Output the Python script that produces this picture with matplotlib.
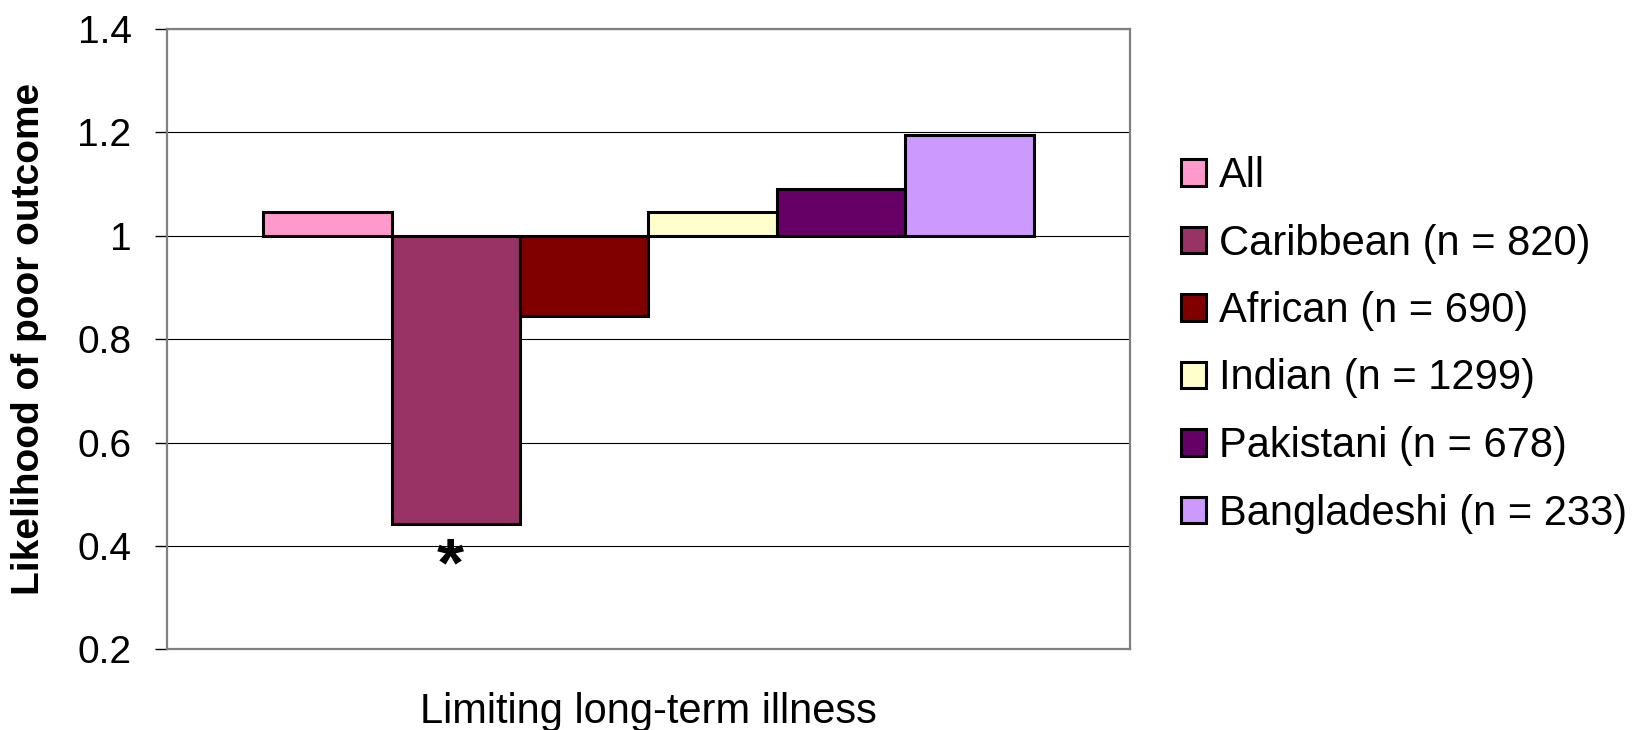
import matplotlib.pyplot as plt
import numpy as np

plt.rcParams['font.family'] = ['Liberation Sans', 'DejaVu Sans']

# data
grupos = ['All', 'Caribbean (n = 820)', 'African (n = 690)', 'Indian (n = 1299)',
          'Pakistani (n = 678)', 'Bangladeshi (n = 233)']
valores = [1.045, 0.442, 0.845, 1.046, 1.091, 1.195]
colores = ['#FF99CC', '#993366', '#800000', '#FFFFCC', '#660066', '#CC99FF']
categoria = 'Limiting long-term illness'
significativo = [False, True, False, False, False, False]
base = 1.0

fig = plt.figure(figsize=(16.44, 7.30), dpi=100)
ax = fig.add_axes([0.1016, 0.1104, 0.5857, 0.8500])

n = len(grupos)
ancho = 0.8 / n
xs = (np.arange(n) - (n - 1) / 2) * ancho

for x, v, c, g, s in zip(xs, valores, colores, grupos, significativo):
    ax.bar(x, v - base, bottom=base, width=ancho, color=c, edgecolor='black',
           linewidth=2.2, label=g, zorder=3)
    if s:
        ax.annotate('*', xy=(x, v), xytext=(-4, -8), textcoords='offset points',
                    ha='center', va='top', fontsize=50, fontweight='bold')

ax.set_xlim(-0.5, 0.5)
ax.set_ylim(0.2, 1.4)
ax.set_yticks([0.2, 0.4, 0.6, 0.8, 1.0, 1.2, 1.4])
ax.set_yticklabels(['0.2', '0.4', '0.6', '0.8', '1', '1.2', '1.4'])
ax.set_xticks([])
ax.yaxis.grid(True, color='black', linewidth=0.8, zorder=0)
ax.set_axisbelow(True)

for sp in ax.spines.values():
    sp.set_color('#808080')
    sp.set_linewidth(1.6)

ax.tick_params(axis='y', direction='out', length=9, width=1, color='black',
               labelsize=28, pad=16.5)

ax.set_xlabel(categoria, fontsize=30, labelpad=31)
ax.set_ylabel('Likelihood of poor outcome', fontsize=28, fontweight='bold')
ax.yaxis.set_label_coords(-0.1246, 0.5)

fig.legend(loc='upper left', bbox_to_anchor=(1181 / 1644, 1 - 156 / 730),
           frameon=False, fontsize=30, handlelength=0.6, handleheight=0.6,
           handletextpad=0.32, labelspacing=0.66, borderpad=0, borderaxespad=0)

fig.savefig('out.png', dpi=100)
